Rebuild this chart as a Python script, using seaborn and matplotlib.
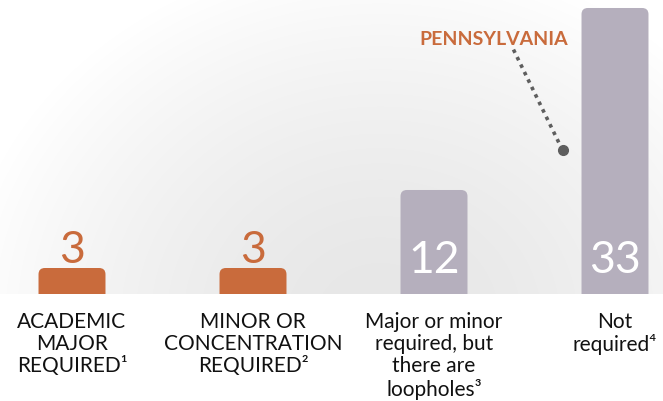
import numpy as np
import matplotlib
matplotlib.use("Agg")
import matplotlib.pyplot as plt
from matplotlib.patches import FancyBboxPatch
import seaborn as sns

# -------------------------
# data
# -------------------------
categories = ["ACADEMIC\nMAJOR\nREQUIRED\u00b9",
              "MINOR OR\nCONCENTRATION\nREQUIRED\u00b2",
              "Major or minor\nrequired, but\nthere are\nloopholes\u00b3",
              "Not\nrequired\u2074"]
values = [3, 3, 12, 33]
bar_colors = ["#c96b3c", "#c96b3c", "#b5afbd", "#b5afbd"]
label_inside = [False, False, True, True]
callout = "PENNSYLVANIA"

ORANGE = "#c96b3c"

sns.set_theme(style="white")
plt.rcParams["font.family"] = ["Lato", "DejaVu Sans"]

W, H = 663, 402
base_px = 295  # baseline, pixels from top
fig = plt.figure(figsize=(W / 100, H / 100), dpi=100)

# -------------------------
# radial grey background behind the bars
# -------------------------
bg = fig.add_axes([0, 0, 1, 1], zorder=0)
yy, xx = np.mgrid[0:H, 0:W]
d = np.sqrt((xx - 380) ** 2 + ((yy - 320) * 1.15) ** 2) / 420
shade = 0.905 + 0.095 * np.clip(d, 0, 1) ** 1.6
shade[yy >= base_px] = 1.0
bg.imshow(np.dstack([shade] * 3), extent=(0, W, H, 0), aspect="auto")
bg.axis("off")

# -------------------------
# bars
# -------------------------
ax = fig.add_axes([0, (H - base_px) / H, 1, base_px / H], zorder=1)
ax.set_facecolor("none")
pal = dict(zip(categories, bar_colors))
sns.barplot(x=categories, y=values, hue=categories, palette=pal,
            legend=False, width=0.37, saturation=1, ax=ax)

xpx, ypx = 181.0, 8.667  # pixels per data unit
ax.set_xlim(-72 / xpx, (W - 72) / xpx)
ax.set_ylim(0, base_px / ypx)

# rounded tops
for p in list(ax.patches):
    x0, w, h = p.get_x(), p.get_width(), p.get_height()
    fc = p.get_facecolor()
    p.remove()
    ax.add_patch(FancyBboxPatch((x0, -2), w, h + 2,
                                boxstyle="round,pad=0,rounding_size=0.035",
                                mutation_aspect=xpx / ypx, fc=fc, ec="none"))

# value labels
for i, (v, inside) in enumerate(zip(values, label_inside)):
    if inside:
        ax.text(i, 22 / ypx, str(v), ha="center", va="baseline",
                fontsize=32, color="white")
    else:
        ax.text(i, v + 6 / ypx, str(v), ha="center", va="baseline",
                fontsize=32, color=ORANGE)

# callout
ax.text(2.33, 28.9, callout, ha="center", va="baseline", fontsize=14,
        fontweight="bold", color=ORANGE)
ax.plot([2.439, 2.71], [28.2, 16.6], ls=(0, (1, 1.3)), lw=2.6, color="#5e5e5e")
ax.plot([2.71], [16.6], "o", ms=7, color="#5e5e5e")

ax.set_xticks(range(len(categories)))
ax.set_xticklabels(categories, fontsize=15, color="#111111", linespacing=1.15,
                   va="top")
ax.tick_params(axis="x", length=0, pad=12)
ax.set_yticks([])
ax.set_xlabel("")
ax.set_ylabel("")
sns.despine(ax=ax, left=True, bottom=True)

fig.savefig("out.png", dpi=100)
